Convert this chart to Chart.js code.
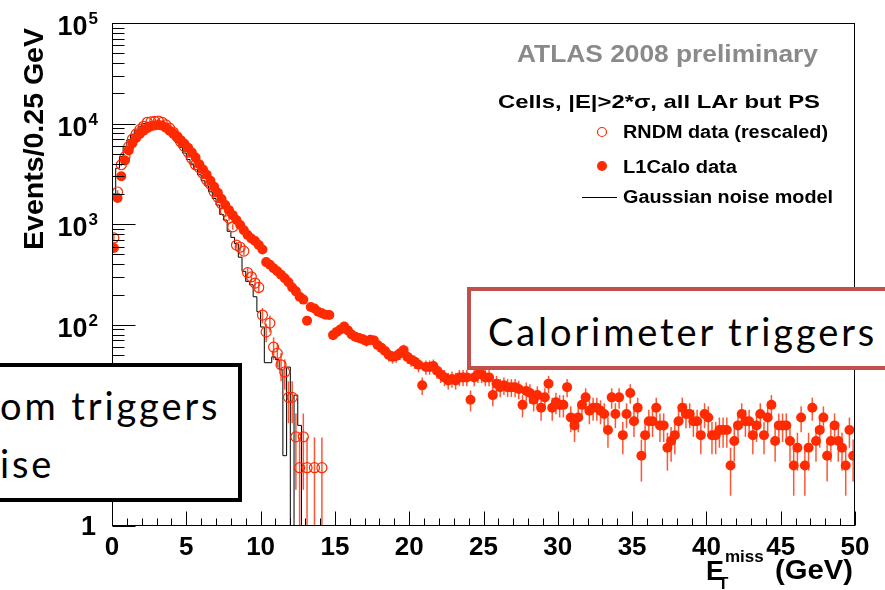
<!DOCTYPE html>
<html>
<head>
<meta charset="utf-8">
<script src="https://cdn.jsdelivr.net/npm/chart.js@4.4.1/dist/chart.umd.min.js"></script>
<style>
  html, body { margin: 0; padding: 0; background: #fff; overflow: hidden; }
  #wrap { position: relative; width: 885px; height: 590px; }
  #wrap canvas { position: absolute; left: 0; top: 0; }
  .slide-box {
    position: absolute; background: #fff; box-sizing: border-box;
    font-family: Lato, 'Open Sans', sans-serif; font-size: 38px; line-height: 38px;
    letter-spacing: 2.9px; color: #000; white-space: nowrap;
  }
  .slide-box span { position: absolute; }
  #rndmBox { left: -20px; top: 363px; width: 262px; height: 139px; border: 4px solid #000; }
  #caloBox { left: 467px; top: 287px; width: 440px; height: 83px; border: 4px solid #c0504d; }
</style>
</head>
<body>
<div id="wrap">
  <canvas id="c" width="885" height="590"></canvas>
  <div class="slide-box" id="rndmBox">
    <span style="left:16px;top:19px">om triggers</span>
    <span style="left:16px;top:77px">ise</span>
  </div>
  <div class="slide-box" id="caloBox">
    <span style="left:17px;top:21px">Calorimeter triggers</span>
  </div>
</div>
<script>
/* ── data: events per 0.25 GeV bin, starting at 0 GeV ── */
const BIN = 0.25;

// L1Calo data (filled), 200 bins 0–50 GeV
const l1caloCounts = [
  580, 1820, 3000, 4300,   5400, 6400, 7200, 7900,   8500, 9000, 9400, 9600,
  9700, 9550, 9100, 8500,  7950, 7400, 6850, 6300,   5750, 5150, 4600, 3950,
  3500, 3100, 2700, 2350,  2050, 1780, 1550, 1380,   1230, 1100, 980, 870,
  780, 720, 680, 620,      560, 420, 395, 365,       340, 315, 290, 265,
  235, 215, 190, 178,      110, 150, 145, 135,       130, 126, 125, 79,
  85, 90, 96, 88,          80, 76, 74, 72,           69, 71, 70, 63,
  59, 55, 50, 48,          49, 52, 56, 48,           45, 43, 40, 25,
  38, 38, 39, 35,          32, 30, 28, 29,           28, 30, 30, 30,
  18, 30, 32, 32,          30, 30, 20, 26,           24, 25, 24, 24,
  24, 23, 16, 22,          21, 18, 20, 15,           19, 26, 15, 17,
  16, 16, 24, 12,          10, 12, 16, 19,           14, 15, 15, 14,
  13, 9, 19, 13,           19, 8, 13, 21,            11, 15, 5, 8,
  11, 11, 15, 10,          10, 6, 7, 8,              11, 15, 13, 13,
  11, 11, 8, 13,           12, 8, 8, 9,              9, 9, 4, 7,
  10, 13, 11, 11,          8, 10, 13, 8,             12, 16, 7, 10,
  10, 10, 7, 4,            6, 12, 4, 6,              15, 7, 9, 12,
  5, 7, 10, 7,             6, 4, 9, 5
];

// RNDM data (open, rescaled), bins 0–14.25 GeV; null = empty bin
const rndmCounts = [
  730, 2090, 3900, 4700,   5900, 7000, 7900, 8700,   9400, 10300, 10400, 10500,
  10600, 10300, 9700, 9000, 8200, 7400, 6600, 5900,  5200, 4500, 3900, 3650,
  3200, 2750, 2500, 2100,  1850, 1600, 1350, 1150,   940, 620, 590, 540,
  330, 300, 260, 235,      125, 85, 104, 60,         52, 40, 34, 19,
  19, 7.7, 3.8, 7.7,       3.8, null, 3.8, null,     3.8
];
const rndmScale = 3.8;   // weight of one RNDM event

// Gaussian noise model, bins 0–13 GeV (0 = empty bin)
const gaussCounts = [
  600, 2000, 3600, 4700,   5900, 6900, 7800, 8600,   9300, 10000, 10200, 10300,
  10300, 10000, 9500, 8900, 8100, 7300, 6500, 5800,  5100, 4400, 3900, 3500,
  3100, 2700, 2400, 2100,  1800, 1550, 1250, 1100,   850, 740, 640, 470,
  340, 270, 250, 190,      135, 95, 42, 42,          48, 45, 36, 5,
  38, 0, 20, 10
];

const FLOOR = 0.5;   // below the axis minimum, drawn as an empty bin
const RED = '#ff2a00';

const l1caloPts = l1caloCounts.map((c, i) => ({ x: (i + 0.5) * BIN, y: c }));
const rndmPts = rndmCounts.map((c, i) => ({ x: (i + 0.5) * BIN, y: c }))
  .filter(p => p.y !== null);
const gaussPts = [{ x: 0, y: FLOOR }]
  .concat(gaussCounts.map((c, i) => ({ x: i * BIN, y: c || FLOOR })))
  .concat([{ x: gaussCounts.length * BIN, y: FLOOR }]);

/* ── helpers ── */
function fitText(ctx, text, x, y, width) {
  const w = ctx.measureText(text).width;
  ctx.save();
  ctx.translate(x, y);
  ctx.scale(width / w, 1);
  ctx.fillText(text, 0, 0);
  ctx.restore();
}

function line(ctx, x1, y1, x2, y2) {
  ctx.beginPath(); ctx.moveTo(x1, y1); ctx.lineTo(x2, y2); ctx.stroke();
}

/* ── error bars, under the markers ── */
const errorBars = {
  id: 'errorBars',
  beforeDatasetsDraw(chart) {
    const { ctx, chartArea: a, scales: { x: xs, y: ys } } = chart;
    ctx.save();
    ctx.beginPath();
    ctx.rect(a.left, a.top, a.right - a.left, a.bottom - a.top);
    ctx.clip();
    ctx.strokeStyle = 'rgba(255,42,0,0.8)';
    ctx.lineWidth = 1.5;
    const bar = (xv, c, w) => {
      const e = Math.sqrt(c * w);
      const px = xs.getPixelForValue(xv);
      const lo = c - e > 1 ? ys.getPixelForValue(c - e) : a.bottom;
      line(ctx, px, ys.getPixelForValue(c + e), px, lo);
    };
    l1caloPts.forEach(p => bar(p.x, p.y, 1));
    rndmPts.forEach(p => bar(p.x, p.y, rndmScale));
    ctx.restore();
  }
};

/* ── ROOT style frame, ticks, labels and legend ── */
const rootFrame = {
  id: 'rootFrame',
  afterDatasetsDraw(chart) {
    const { ctx, chartArea: a, scales: { x: xs, y: ys } } = chart;
    const L = Math.round(a.left) + 0.5, R = Math.round(a.right) - 0.5;
    const T = Math.round(a.top) + 0.5, B = Math.round(a.bottom) - 0.5;
    ctx.save();
    ctx.strokeStyle = '#000';
    ctx.lineWidth = 1;
    ctx.strokeRect(L, T, R - L, B - T);

    // x ticks, every GeV
    for (let g = 0; g <= 50; g++) {
      const px = Math.round(xs.getPixelForValue(g)) + 0.5;
      line(ctx, px, B, px, B - (g % 5 === 0 ? 14 : 7));
    }
    // y ticks, log decades
    for (let d = 0; d <= 4; d++) {
      for (let m = 1; m <= 9; m++) {
        const py = Math.round(ys.getPixelForValue(m * Math.pow(10, d))) + 0.5;
        line(ctx, L, py, L + (m === 1 ? 23 : 12), py);
      }
    }
    line(ctx, L, T, L + 23, T);

    ctx.fillStyle = '#000';
    ctx.textBaseline = 'alphabetic';

    // x tick labels
    ctx.font = 'bold 26px "Liberation Sans", Arial, sans-serif';
    ctx.textAlign = 'center';
    for (let g = 0; g <= 50; g += 5) {
      ctx.fillText(String(g), xs.getPixelForValue(g), B + 29);
    }

    // y tick labels
    ctx.textAlign = 'right';
    for (let d = 0; d <= 5; d++) {
      const py = ys.getPixelForValue(Math.pow(10, d));
      ctx.font = 'bold 27px "Liberation Sans", Arial, sans-serif';
      if (d === 0) { ctx.fillText('1', 96, py + 9); continue; }
      if (d === 1) { ctx.fillText('10', 96, py + 12); continue; }
      ctx.font = 'bold 17px "Liberation Sans", Arial, sans-serif';
      const sw = ctx.measureText(String(d)).width;
      ctx.fillText(String(d), 98, py + 1);
      ctx.font = 'bold 27px "Liberation Sans", Arial, sans-serif';
      ctx.fillText('10', 97 - sw, py + 12);
    }

    // axis titles
    ctx.textAlign = 'left';
    ctx.save();
    ctx.translate(43, 250);
    ctx.rotate(-Math.PI / 2);
    ctx.font = 'bold 28px "Liberation Sans", Arial, sans-serif';
    fitText(ctx, 'Events/0.25 GeV', 0, 0, 222);
    ctx.restore();

    ctx.font = 'bold 27px "Liberation Sans", Arial, sans-serif';
    ctx.fillText('E', 706, 580);
    ctx.font = 'bold 17px "Liberation Sans", Arial, sans-serif';
    ctx.fillText('T', 718, 589);
    ctx.fillText('miss', 725, 562);
    ctx.font = 'bold 27px "Liberation Sans", Arial, sans-serif';
    fitText(ctx, '(GeV)', 775, 579, 78);

    // header texts
    ctx.fillStyle = '#8a8a8a';
    ctx.font = 'bold 24px "Liberation Sans", Arial, sans-serif';
    fitText(ctx, 'ATLAS 2008 preliminary', 517, 62, 301);
    ctx.fillStyle = '#000';
    ctx.font = 'bold 19px "Liberation Sans", Arial, sans-serif';
    fitText(ctx, 'Cells, |E|>2*\u03c3, all LAr but PS', 498, 108, 322);

    // legend
    ctx.font = 'bold 18px "Liberation Sans", Arial, sans-serif';
    fitText(ctx, 'RNDM data (rescaled)', 623, 138, 205);
    fitText(ctx, 'L1Calo data', 623, 173, 114);
    fitText(ctx, 'Gaussian noise model', 623, 203, 210);
    ctx.strokeStyle = RED;
    ctx.lineWidth = 1.2;
    ctx.beginPath(); ctx.arc(602, 132, 4.5, 0, Math.PI * 2); ctx.stroke();
    ctx.fillStyle = RED;
    ctx.beginPath(); ctx.arc(602, 166, 5, 0, Math.PI * 2); ctx.fill();
    ctx.strokeStyle = '#000';
    ctx.lineWidth = 1;
    line(ctx, 582, 197.5, 617, 197.5);
    ctx.restore();
  }
};

new Chart(document.getElementById('c'), {
  type: 'scatter',
  data: {
    datasets: [
      {
        label: 'RNDM data (rescaled)',
        data: rndmPts,
        order: 0,
        pointStyle: 'circle',
        pointRadius: 5,
        pointBorderWidth: 1.2,
        pointBorderColor: RED,
        pointBackgroundColor: 'rgba(0,0,0,0)'
      },
      {
        label: 'L1Calo data',
        data: l1caloPts,
        order: 1,
        pointStyle: 'circle',
        pointRadius: 5,
        pointBorderWidth: 0,
        pointBackgroundColor: RED
      },
      {
        label: 'Gaussian noise model',
        type: 'line',
        data: gaussPts,
        order: 2,
        stepped: 'after',
        borderColor: '#000',
        borderWidth: 1,
        pointRadius: 0,
        fill: false
      }
    ]
  },
  options: {
    responsive: false,
    animation: false,
    events: [],
    layout: { padding: { top: 23, right: 30, left: 0, bottom: 0 } },
    plugins: { legend: { display: false }, tooltip: { enabled: false } },
    scales: {
      x: {
        type: 'linear', min: 0, max: 50,
        grid: { display: false }, border: { display: false },
        ticks: { display: false },
        afterFit: s => { s.height = 64; }
      },
      y: {
        type: 'logarithmic', min: 1, max: 100000,
        grid: { display: false }, border: { display: false },
        ticks: { display: false },
        afterFit: s => { s.width = 112; }
      }
    }
  },
  plugins: [errorBars, rootFrame]
});
</script>
</body>
</html>
